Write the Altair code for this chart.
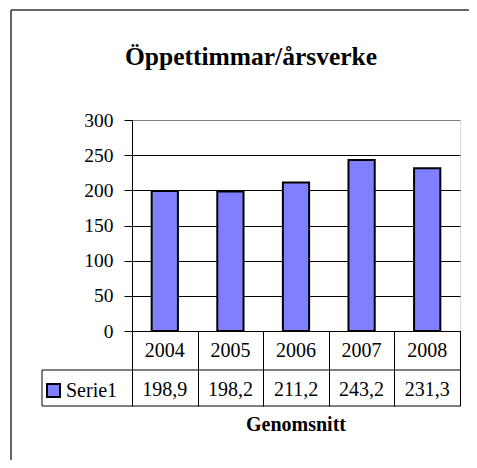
import altair as alt
import pandas as pd

years = ["2004", "2005", "2006", "2007", "2008"]
values = [198.9, 198.2, 211.2, 243.2, 231.3]
series_name = "Serie1"
title_text = "Öppettimmar/årsverke"
x_title = "Genomsnitt"
y_ticks = [0, 50, 100, 150, 200, 250, 300]

df = pd.DataFrame({
    "year": years,
    "value": values,
    "label": [f"{v:.1f}".replace(".", ",") for v in values],
})

W, H = 328, 211
FONT = "Liberation Serif"

xenc = alt.X(
    "year:N",
    sort=years,
    scale=alt.Scale(paddingInner=0, paddingOuter=0),
    axis=alt.Axis(title=None, labels=False, ticks=True, tickBand="extent",
                  tickSize=75, tickColor="black", tickWidth=1,
                  domainColor="black", domainWidth=1),
)
yenc = alt.Y(
    "value:Q",
    scale=alt.Scale(domain=[0, 300], nice=False),
    axis=alt.Axis(values=y_ticks, title=None, grid=True,
                  gridColor={"condition": {"test": "datum.value >= 300", "value": "#808080"},
                             "value": "black"},
                  gridWidth=1, domainColor="black", domainWidth=1,
                  tickColor="black", tickSize=8, labelPadding=11,
                  labelFont=FONT, labelFontSize=19.5, labelColor="black"),
)

base = alt.Chart(df)
bars = base.mark_bar(color="#8080FF", stroke="black", strokeWidth=2,
                     width=alt.RelativeBandSize(0.4)).encode(x=xenc, y=yenc)

year_txt = base.mark_text(font=FONT, fontSize=20, baseline="alphabetic", color="black").encode(
    x=alt.X("year:N", sort=years), y=alt.value(237), text="year:N")
val_txt = base.mark_text(font=FONT, fontSize=20, baseline="alphabetic", color="black").encode(
    x=alt.X("year:N", sort=years), y=alt.value(275.5), text="label:N")

deco = alt.Chart(alt.Data(values=[{}]))
hline1 = deco.mark_rule(color="black", strokeWidth=1).encode(
    x=alt.value(-90), x2=alt.value(W), y=alt.value(250))
hline2 = deco.mark_rule(color="black", strokeWidth=1).encode(
    x=alt.value(-90), x2=alt.value(W), y=alt.value(286))
vline = deco.mark_rule(color="black", strokeWidth=1).encode(
    x=alt.value(-90), y=alt.value(250), y2=alt.value(286))
swatch = deco.mark_rect(color="#8080FF", stroke="black", strokeWidth=2).encode(
    x=alt.value(-85), x2=alt.value(-72), y=alt.value(264), y2=alt.value(277))
serie_txt = deco.mark_text(font=FONT, fontSize=20, align="left", baseline="alphabetic",
                           color="black", text=series_name).encode(
    x=alt.value(-66), y=alt.value(276.5))
title = deco.mark_text(font=FONT, fontSize=25.5, fontWeight="bold", align="center",
                       baseline="alphabetic", color="black", text=title_text).encode(
    x=alt.value(119), y=alt.value(-55))
xtitle = deco.mark_text(font=FONT, fontSize=20, fontWeight="bold", align="center",
                        baseline="alphabetic", color="black", text=x_title).encode(
    x=alt.value(164), y=alt.value(310.5))
border_top = deco.mark_rule(color="#333333", strokeWidth=1.5).encode(
    x=alt.value(-121), x2=alt.value(340), y=alt.value(-110))
border_left = deco.mark_rule(color="#333333", strokeWidth=1.5).encode(
    x=alt.value(-121), y=alt.value(-110), y2=alt.value(345))

chart = alt.layer(
    bars, year_txt, val_txt, hline1, hline2, vline, swatch, serie_txt,
    title, xtitle, border_top, border_left,
).properties(
    width=W, height=H, autosize="none",
    padding={"left": 124, "top": 112, "right": 9, "bottom": 129},
).configure_view(stroke="#808080", strokeWidth=2).configure(background="white")

chart.save("out.html", embed_options={"renderer": "svg", "actions": False})
